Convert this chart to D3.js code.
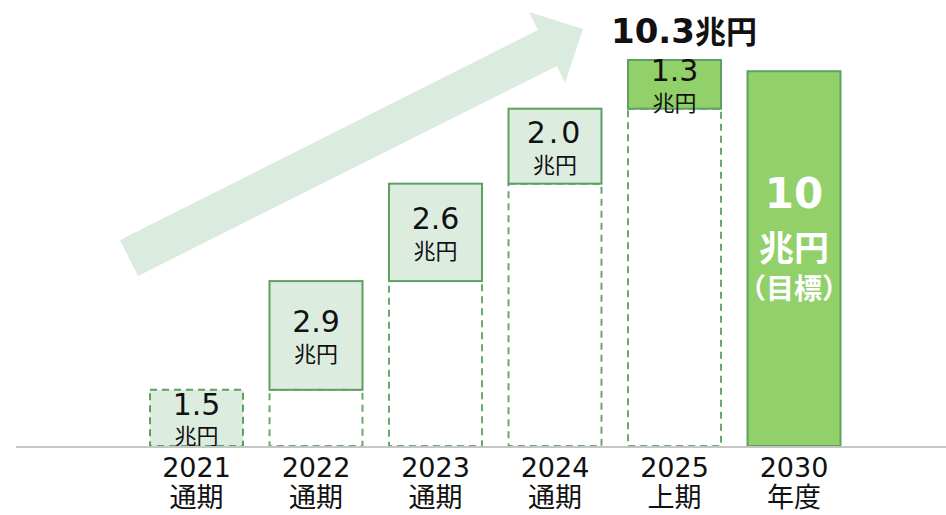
<!DOCTYPE html>
<html><head><meta charset="utf-8">
<script src="https://cdn.jsdelivr.net/npm/d3@7"></script>
<style>
html,body{margin:0;padding:0;background:#fff;}
svg{display:block;}
</style></head>
<body>
<svg id="chart" width="946" height="515"></svg>
<script>
// ---- data ----
const years = ["2021", "2022", "2023", "2024", "2025", "2030"];
const periods = ["通期", "通期", "通期", "通期", "上期", "年度"];
const increments = [1.5, 2.9, 2.6, 2.0, 1.3];   // 兆円, waterfall steps
const target = 10;                               // 2030 目標 (兆円)
const totalLabel = "10.3";
const unit = "兆円";
const targetNote = "（目標）";

// ---- layout ----
const W = 946, H = 515;
const svg = d3.select("#chart");
const numFont = "'DejaVu Sans', Verdana, sans-serif";
const cjkFont = "'Noto Sans CJK JP', 'Noto Sans', sans-serif";

const x = d3.scaleBand().domain(years).range([136.75, 853.75]).paddingInner(0.222).paddingOuter(0.111);
const y = d3.scaleLinear().domain([0, 10.3]).range([446, 60]);

// cumulative
let acc = 0;
const steps = increments.map((v, i) => { const s = { year: years[i], v, start: acc, end: acc + v }; acc += v; return s; });

const boxFill = "#dcede0", boxStroke = "#5e9f62", strongFill = "#92d06a";

// arrow decoration
svg.append("polygon")
  .attr("points", [[120,240],[538,30],[529,12],[583,29],[565,83],[557,66],[138,276]].map(p => p.join(",")).join(" "))
  .attr("fill", "#daece0");

// dashed hidden portion below each step
steps.forEach((s) => {
  if (s.start > 0) {
    svg.append("rect")
      .attr("x", x(s.year)).attr("y", y(s.start))
      .attr("width", x.bandwidth()).attr("height", y(0) - y(s.start))
      .attr("fill", "#fff").attr("stroke", "#6aa86e").attr("stroke-width", 2)
      .attr("stroke-dasharray", "7,5");
  }
});

// step boxes
steps.forEach((s, i) => {
  const first = i === 0, last = i === steps.length - 1;
  svg.append("rect")
    .attr("x", x(s.year)).attr("y", y(s.end))
    .attr("width", x.bandwidth()).attr("height", y(s.start) - y(s.end))
    .attr("fill", last ? strongFill : boxFill)
    .attr("stroke", boxStroke).attr("stroke-width", 2)
    .attr("stroke-dasharray", first ? "7,5" : null);
  const cx = x(s.year) + x.bandwidth() / 2;
  const cy = (y(s.start) + y(s.end)) / 2;
  svg.append("text").attr("x", cx).attr("y", cy - 3)
    .attr("text-anchor", "middle").attr("font-family", numFont).attr("font-size", 30)
    .attr("letter-spacing", s.v === 2 ? 3 : 0)
    .attr("fill", "#111").text(d3.format(".1f")(s.v));
  svg.append("text").attr("x", cx).attr("y", first ? cy + 26 : cy + 27)
    .attr("text-anchor", "middle").attr("font-family", cjkFont).attr("font-size", 22)
    .attr("fill", "#111").text(unit);
});

// target bar
const tx = x("2030"), tcx = tx + x.bandwidth() / 2;
svg.append("rect").attr("x", tx).attr("y", y(target))
  .attr("width", x.bandwidth()).attr("height", y(0) - y(target))
  .attr("fill", strongFill).attr("stroke", boxStroke).attr("stroke-width", 2);
svg.append("text").attr("x", tcx).attr("y", 208).attr("text-anchor", "middle")
  .attr("font-family", numFont).attr("font-weight", "bold").attr("font-size", 42)
  .attr("fill", "#fff").text(String(target));
svg.append("text").attr("x", tcx).attr("y", 261).attr("text-anchor", "middle")
  .attr("font-family", cjkFont).attr("font-weight", "bold").attr("font-size", 35)
  .attr("fill", "#fff").text(unit);
svg.append("text").attr("x", tcx).attr("y", 299).attr("text-anchor", "middle")
  .attr("font-family", cjkFont).attr("font-weight", "bold").attr("font-size", 28)
  .attr("fill", "#fff").text(targetNote);

// total label
const tl = svg.append("text").attr("x", 611).attr("y", 43).attr("fill", "#111");
tl.append("tspan").attr("font-family", numFont).attr("font-weight", "bold").attr("font-size", 34).text(totalLabel);
tl.append("tspan").attr("font-family", cjkFont).attr("font-weight", "bold").attr("font-size", 31).text(unit);

// baseline axis
svg.append("line").attr("x1", 16).attr("x2", W).attr("y1", y(0) + 1).attr("y2", y(0) + 1)
  .attr("stroke", "#c6c6c6").attr("stroke-width", 2);

// category labels
years.forEach((yr, i) => {
  const cx = x(yr) + x.bandwidth() / 2;
  svg.append("text").attr("x", cx).attr("y", 477).attr("text-anchor", "middle")
    .attr("font-family", numFont).attr("font-size", 27).attr("fill", "#111").text(yr);
  svg.append("text").attr("x", cx).attr("y", 507).attr("text-anchor", "middle")
    .attr("font-family", cjkFont).attr("font-size", 27).attr("fill", "#111").text(periods[i]);
});
</script>
</body></html>
